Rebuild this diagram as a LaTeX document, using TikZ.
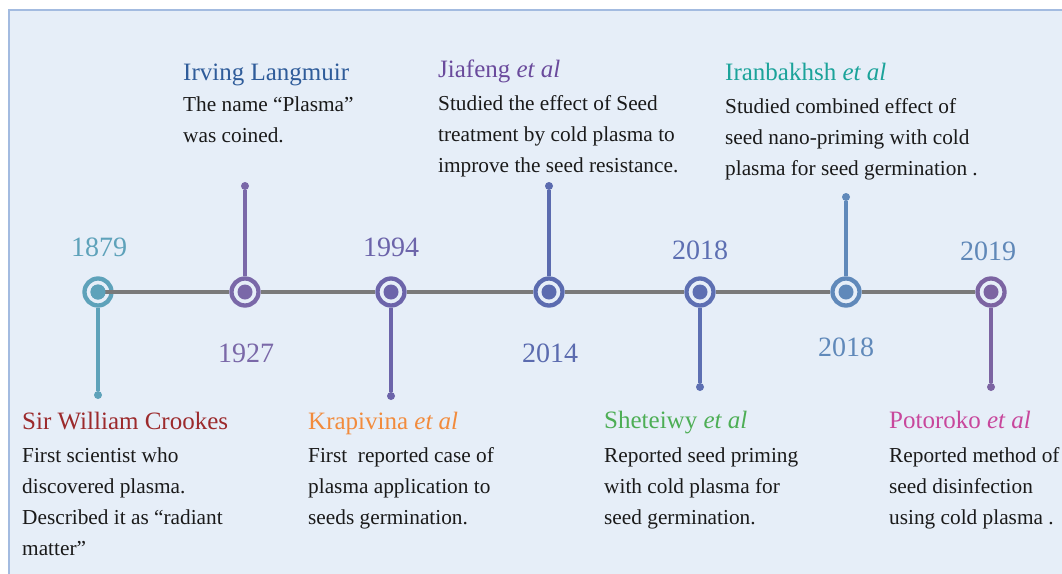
\documentclass[tikz,border=0pt]{standalone}
\usepackage{fontspec}
\setmainfont{Liberation Serif}
\definecolor{bgfill}{HTML}{E6EEF8}
\definecolor{bgline}{HTML}{A3BBE0}
\definecolor{axis}{HTML}{7A7A7A}
\definecolor{ink}{HTML}{1A1A1A}
\definecolor{cA}{HTML}{5EA2BA}
\definecolor{cB}{HTML}{7A68A8}
\definecolor{cC}{HTML}{6C64AA}
\definecolor{cD}{HTML}{5B6BAF}
\definecolor{cE}{HTML}{5D6FB2}
\definecolor{cF}{HTML}{6089BA}
\definecolor{cG}{HTML}{7C64A2}
\definecolor{yG}{HTML}{6088B8}
\definecolor{nA}{HTML}{9C2A2C}
\definecolor{nB}{HTML}{2F5C9A}
\definecolor{nC}{HTML}{F28B3C}
\definecolor{nD}{HTML}{6A4A9C}
\definecolor{nE}{HTML}{4DAE55}
\definecolor{nF}{HTML}{1BA39A}
\definecolor{nG}{HTML}{C8479C}
\tikzset{
  ring/.style={circle, draw=#1, line width=4.3pt, minimum size=27pt, inner sep=0pt,
    path picture={\fill[#1] (path picture bounding box.center) circle (7.5pt);}},
  enddot/.style={circle, fill=#1, minimum size=8pt, inner sep=0pt},
  stem/.style={draw=#1, line width=3.3pt},
  axisline/.style={draw=axis, line width=4.3pt},
  year/.style={text=#1, font=\fontsize{28}{28}\selectfont, inner sep=0pt, anchor=base},
  who/.style={text=#1, font=\fontsize{25}{25}\selectfont, inner sep=0pt, anchor=base west},
  body/.style={text=ink, font=\fontsize{21.3}{31.3}\selectfont, inner sep=0pt, anchor=base west, align=left},
}
\begin{document}
\begin{tikzpicture}[x=1pt, y=-1pt]
\clip (0,0) rectangle (1062,573);
\fill[white] (0,0) rectangle (1062,573);
\draw[bgline, fill=bgfill, line width=1.5pt] (9,10) rectangle (1080,590);

% event circles
\node[ring=cA] (c1) at (98,292) {};
\node[ring=cB] (c2) at (245,292) {};
\node[ring=cC] (c3) at (391,292) {};
\node[ring=cD] (c4) at (549,292) {};
\node[ring=cE] (c5) at (700,292) {};
\node[ring=cF] (c6) at (846,292) {};
\node[ring=cG] (c7) at (991,292) {};

% axis
\path[axisline] (c1.east) -- (c2.west);
\path[axisline] (c2.east) -- (c3.west);
\path[axisline] (c3.east) -- (c4.west);
\path[axisline] (c4.east) -- (c5.west);
\path[axisline] (c5.east) -- (c6.west);
\path[axisline] (c6.east) -- (c7.west);
\path[axisline] (c1.center) -- (c1.east);
\fill[cA] (c1.center) circle (7.5pt);

% stem ends
\node[enddot=cA] (e1) at (98,395) {};
\node[enddot=cB] (e2) at (245,186) {};
\node[enddot=cC] (e3) at (391,396) {};
\node[enddot=cD] (e4) at (549,186) {};
\node[enddot=cE] (e5) at (700,387) {};
\node[enddot=cF] (e6) at (846,197) {};
\node[enddot=cG] (e7) at (991,387) {};

\draw[stem=cA] (c1) -- (e1);
\draw[stem=cB] (c2) -- (e2);
\draw[stem=cC] (c3) -- (e3);
\draw[stem=cD] (c4) -- (e4);
\draw[stem=cE] (c5) -- (e5);
\draw[stem=cF] (c6) -- (e6);
\draw[stem=cG] (c7) -- (e7);

% years
\node[year=cA] (y1) at (99,256) {1879};
\node[year=cB] (y2) at (246,362) {1927};
\node[year=cC] (y3) at (391,256) {1994};
\node[year=cD] (y4) at (550,362) {2014};
\node[year=cE] (y5) at (700,259) {2018};
\node[year=cF] (y6) at (846,356) {2018};
\node[year=yG] (y7) at (988,260) {2019};

% top texts (body nodes anchored at the baseline of their last line)
\node[who=nB] (n2) at (183,80) {Irving Langmuir};
\node[body] (b2) at (183,142.3) {The name “Plasma”\\was coined.};

\node[who=nD] (n4) at (438,77) {Jiafeng \textit{et al}};
\node[body] (b4) at (438,172.6) {Studied the effect of Seed\\treatment by cold plasma to\\improve the seed resistance.};

\node[who=nF] (n6) at (725,80) {Iranbakhsh \textit{et al}};
\node[body] (b6) at (725,175.6) {Studied combined effect of\\seed nano-priming with cold\\plasma for seed germination .};

% bottom texts
\node[who=nA] (n1) at (22,429) {Sir William Crookes};
\node[body] (b1) at (22,555.9) {First scientist who\\discovered plasma.\\Described it as “radiant\\matter”};

\node[who=nC] (n3) at (308,429) {Krapivina \textit{et al}};
\node[body] (b3) at (308,524.6) {First~ reported case of\\plasma application to\\seeds germination.};

\node[who=nE] (n5) at (604,428) {Sheteiwy \textit{et al}};
\node[body] (b5) at (604,524.6) {Reported seed priming\\with cold plasma for\\seed germination.};

\node[who=nG] (n7) at (889,428) {Potoroko \textit{et al}};
\node[body] (b7) at (889,524.6) {Reported method of\\seed disinfection\\using cold plasma .};
\end{tikzpicture}
\end{document}
